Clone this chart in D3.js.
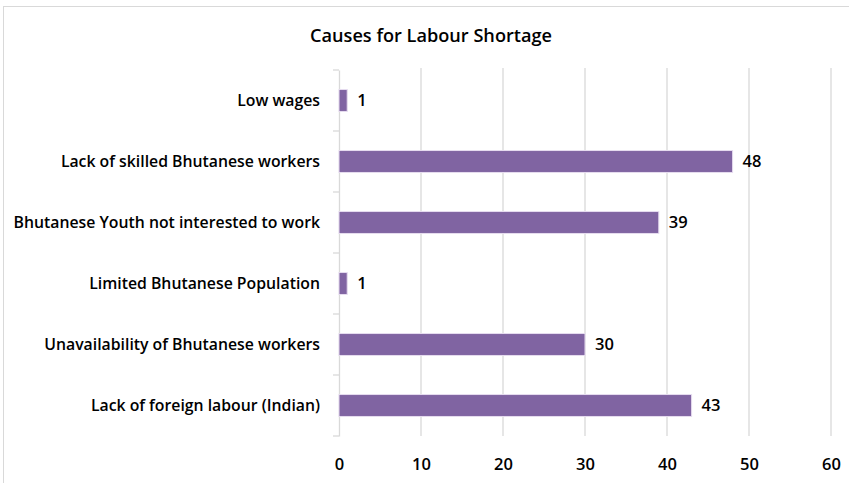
<!DOCTYPE html>
<html><head><meta charset="utf-8">
<script src="https://cdn.jsdelivr.net/npm/d3@7"></script>
<style>body{margin:0;background:#fff}svg{display:block}text{font-family:"Open Sans","Liberation Sans",sans-serif;fill:#000}</style>
</head><body>
<svg id="c" width="849" height="483"></svg>
<script>
const categories = ["Low wages","Lack of skilled Bhutanese workers","Bhutanese Youth not interested to work","Limited Bhutanese Population","Unavailability of Bhutanese workers","Lack of foreign labour (Indian)"];
const values = [1,48,39,1,30,43];
const xTicks = [0,10,20,30,40,50,60];
const title = "Causes for Labour Shortage";

const svg = d3.select("#c");
svg.append("rect").attr("x",3.5).attr("y",6.5).attr("width",900).attr("height",900)
  .attr("fill","#fff").attr("stroke","#d9d9d9");
const m = {left:339, right:831, top:70, bottom:436};
const x = d3.scaleLinear().domain([0,60]).range([m.left,m.right]);
const y = d3.scaleBand().domain(categories).range([m.top,m.bottom]).paddingInner(0.64).paddingOuter(0.32);

svg.append("text").attr("x",431).attr("y",42).attr("text-anchor","middle")
  .style("font-size","18px").style("font-weight",600).attr("textLength",242).attr("lengthAdjust","spacingAndGlyphs").text(title);

// gridlines
svg.append("g").selectAll("line").data(xTicks.slice(1)).join("line")
  .attr("x1",d=>x(d)).attr("x2",d=>x(d)).attr("y1",m.top-2).attr("y2",m.bottom)
  .attr("stroke","#d9d9d9").attr("stroke-width",1.3);

// x axis labels
const xa = svg.append("g").attr("transform",`translate(0,${m.bottom})`)
  .call(d3.axisBottom(x).tickValues(xTicks).tickSize(0).tickPadding(22));
xa.select(".domain").remove();
xa.selectAll("text").style("font-size","16.5px").style("font-weight",600).style("font-family","'Open Sans',sans-serif");

// y axis
const ya = svg.append("g").attr("transform",`translate(${m.left},0)`)
  .call(d3.axisLeft(y).tickSize(0).tickPadding(19));
ya.select(".domain").attr("stroke","#d9d9d9").attr("stroke-width",1.3);
ya.selectAll("text").style("font-size","15.8px").style("font-weight",600).style("font-family","'Open Sans',sans-serif");
// band boundary ticks
const bounds = d3.range(categories.length+1).map(i=>m.top + i*(m.bottom-m.top)/categories.length);
svg.append("g").selectAll("line").data(bounds).join("line")
  .attr("x1",m.left-6).attr("x2",m.left).attr("y1",d=>d).attr("y2",d=>d)
  .attr("stroke","#d9d9d9").attr("stroke-width",1.3);

// bars
svg.append("g").selectAll("rect").data(values).join("rect")
  .attr("x",x(0)).attr("y",(d,i)=>y(categories[i]))
  .attr("width",d=>x(d)-x(0)).attr("height",y.bandwidth())
  .attr("fill","#8064a2").attr("stroke","#e6dcef").attr("stroke-width",1);

svg.append("g").selectAll("text").data(values).join("text")
  .attr("x",d=>x(d)+10).attr("y",(d,i)=>y(categories[i])+y.bandwidth()/2)
  .attr("dy","0.36em").style("font-size","16.5px").style("font-weight",600).text(d=>d);
</script>
</body></html>
